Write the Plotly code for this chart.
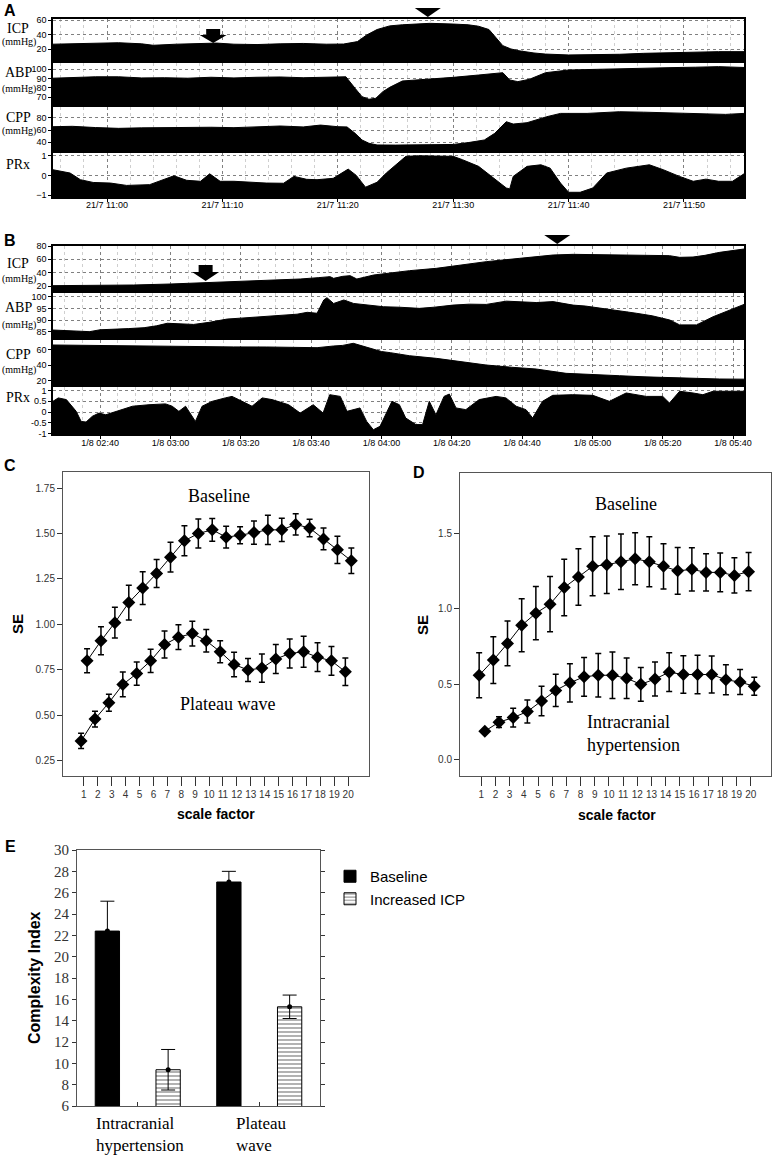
import plotly.graph_objects as go

W, H = 776, 1155
SERIF = "Liberation Serif, Times New Roman, serif"
SANS = "Liberation Sans, Arial, sans-serif"

# ---------------- Panel A : minutes after 21/7 11:00 ----------------
a_tick_min = [0, 10, 20, 30, 40, 50]
a_tick_text = ["21/7 11:00", "21/7 11:10", "21/7 11:20", "21/7 11:30", "21/7 11:40", "21/7 11:50"]

a_icp_t = [-4.7, -3.0, -1.0, 1.0, 3.0, 4.0, 6.0, 8.0, 9.5, 11.0, 13.0, 15.0, 17.0, 19.0, 20.5, 21.7,
           22.5, 23.4, 24.5, 25.6, 27.0, 28.0, 30.0, 31.3, 32.2, 33.1, 33.7, 34.3, 35.0, 35.7, 37.0,
           38.0, 40.0, 42.0, 44.4, 46.5, 48.7, 51.0, 53.0, 55.2]
a_icp = [27.0, 27.8, 28.0, 29.0, 27.5, 25.5, 27.0, 28.0, 28.5, 27.0, 26.5, 27.5, 28.0, 27.0, 27.2, 30.5,
         39.5, 47.0, 52.0, 53.5, 54.5, 55.5, 54.5, 53.5, 51.5, 47.0, 36.0, 25.0, 20.5, 18.0, 15.0,
         13.5, 12.3, 12.5, 13.2, 14.5, 15.5, 16.0, 16.8, 16.8]

a_abp_t = [-4.7, -3.0, -1.0, 1.0, 3.0, 5.0, 7.0, 9.0, 11.0, 13.0, 15.0, 17.0, 19.0, 20.7, 21.5, 22.1,
           22.7, 23.3, 23.9, 24.5, 25.6, 27.9, 30.0, 32.2, 34.3, 34.9, 35.6, 36.6, 38.0, 40.0, 42.0,
           44.4, 46.5, 48.7, 51.0, 53.0, 55.2]
a_abp = [90.5, 91.5, 92.0, 92.0, 90.8, 91.0, 90.5, 91.5, 90.8, 91.5, 91.8, 91.0, 91.5, 92.0, 79.6, 70.7,
         67.9, 69.0, 76.0, 80.7, 87.5, 89.3, 91.4, 93.9, 96.4, 88.6, 86.8, 89.3, 96.4, 99.3, 100.0,
         101.0, 101.5, 101.8, 102.3, 102.9, 102.0]

a_cpp_t = [-4.7, -3.0, -1.0, 1.0, 3.0, 5.0, 7.0, 9.0, 11.0, 13.0, 15.0, 17.0, 18.5, 20.0, 20.8, 21.5,
           22.1, 22.7, 23.4, 25.0, 27.9, 30.0, 31.3, 32.7, 33.6, 34.0, 34.6, 35.2, 36.4, 38.1, 39.3,
           41.6, 44.4, 46.5, 48.7, 51.6, 53.6, 55.2]
a_cpp = [65.4, 66.0, 64.0, 62.7, 63.5, 64.0, 65.0, 64.5, 63.8, 65.5, 66.5, 65.0, 68.0, 65.4, 65.0, 54.6,
         43.8, 38.4, 35.7, 35.5, 35.7, 36.5, 39.5, 43.8, 54.6, 62.7, 73.5, 69.7, 71.9, 81.6, 87.0,
         87.0, 89.7, 89.0, 88.0, 87.0, 85.4, 87.0]

a_prx_t = [-4.7, -3.8, -3.2, -2.3, -1.2, 0.3, 1.7, 3.7, 5.8, 6.9, 8.1, 8.9, 9.8, 11.0, 12.4, 13.8,
           15.3, 16.2, 17.3, 18.2, 19.6, 20.9, 21.6, 22.4, 23.4, 24.2, 25.9, 27.0, 30.0, 30.8, 32.2,
           33.7, 34.6, 34.9, 35.2, 36.4, 37.6, 38.4, 39.3, 40.0, 41.0, 42.1, 43.3, 45.0, 47.0, 48.2,
           49.6, 50.8, 51.9, 53.0, 54.2, 55.2]
a_prx = [0.29, 0.20, 0.12, -0.22, -0.36, -0.39, -0.51, -0.47, -0.02, -0.25, -0.30, 0.08, -0.30, -0.30,
         -0.36, -0.39, -0.40, -0.05, -0.20, -0.22, -0.15, 0.32, 0.00, -0.60, -0.35, 0.12, 0.97, 1.00,
         0.97, 0.80, 0.46, -0.22, -0.64, -0.69, -0.05, 0.46, 0.54, 0.37, -0.39, -0.86, -0.86, -0.64,
         0.12, 0.37, 0.54, 0.29, -0.05, -0.30, -0.19, -0.30, -0.30, 0.08]

# ---------------- Panel B : minutes after 1/8 02:40 ----------------
b_tick_min = [0, 20, 40, 60, 80, 100, 120, 140, 160, 180]
b_tick_text = ["1/8 02:40", "1/8 03:00", "1/8 03:20", "1/8 03:40", "1/8 04:00",
               "1/8 04:20", "1/8 04:40", "1/8 05:00", "1/8 05:20", "1/8 05:40"]

b_icp_t = [-13.4, 0, 9.5, 20, 28.4, 38, 47.4, 56.9, 62, 65.4, 66.4, 69, 71.1, 73, 77.8, 82.5, 88,
           95.6, 102, 109.8, 119.3, 128.8, 134.5, 140, 147.7, 155, 161.9, 164.8, 168.6, 172, 176.2, 183.1]
b_icp = [20.5, 21.0, 21.5, 23.0, 24.5, 26.0, 28.0, 30.5, 32.5, 34.0, 31.5, 34.5, 35.5, 30.5, 36.5, 40.0,
         43.0, 46.5, 51.0, 56.5, 61.5, 66.5, 67.5, 67.0, 66.5, 66.0, 65.5, 63.0, 63.5, 66.0, 70.5, 75.5]

b_abp_t = [-13.4, -9, -5.6, -3, 0, 3, 8, 12.5, 16, 19.1, 22, 26.6, 31, 36.1, 40, 45.6, 50, 53.2, 56,
           58.9, 61.7, 63.6, 64.5, 66.4, 69.3, 72.1, 76, 80.6, 85, 90.8, 95, 100.3, 105, 109.8, 115.5,
           119.3, 124, 128.8, 134.5, 138, 143, 148, 152.5, 157, 162, 164.8, 169.6, 174.3, 178, 183.1]
b_abp = [85.7, 85.5, 85.3, 85.0, 85.8, 86.1, 86.3, 86.7, 87.5, 88.6, 88.5, 88.1, 89.0, 90.4, 90.8, 91.4,
         91.8, 92.1, 92.5, 93.3, 92.9, 98.6, 99.6, 97.1, 98.6, 97.1, 96.5, 95.7, 95.5, 95.0, 95.5, 96.4,
         96.8, 96.7, 98.1, 97.9, 97.5, 97.9, 96.4, 96.0, 95.0, 94.0, 92.9, 91.8, 90.0, 87.9, 87.9, 91.4,
         93.5, 96.7]

b_cpp_t = [-13.4, -5, 0, 9.5, 20, 28.4, 38, 47.4, 55, 61.7, 66.4, 69, 72, 75.9, 80, 82.5, 88, 95.6,
           102, 109.8, 117, 124, 132.5, 140, 147.7, 155, 161.9, 170, 176.2, 183.1]
b_cpp = [66.5, 66.0, 65.8, 65.2, 64.8, 64.3, 64.0, 63.9, 63.5, 63.0, 65.2, 66.0, 68.7, 63.0, 58.0, 56.5,
         52.5, 49.1, 45.0, 40.4, 37.5, 35.2, 29.6, 28.5, 26.5, 25.0, 23.9, 22.8, 22.2, 22.0]

b_prx_t = [-13.4, -11.9, -9.6, -6.8, -5.4, -4.0, -2.2, -0.3, 1.6, 4.4, 9.2, 13.9, 18.6, 20.5, 22.4,
           24.3, 27.1, 29.0, 31.9, 35.6, 37.5, 39.4, 43.2, 46.1, 48.9, 53.6, 56.9, 60.6, 63.4, 65.3,
           68.3, 70.2, 72.0, 73.9, 75.8, 77.7, 79.6, 81.5, 83.0, 85.1, 86.9, 89.8, 91.7, 93.6, 95.5,
           97.8, 99.3, 101.2, 104.0, 107.8, 112.6, 115.4, 118.3, 121.1, 123.0, 125.8, 128.7, 134.4,
           140.1, 144.8, 149.6, 155.3, 160.0, 161.9, 164.8, 168.6, 171.4, 174.3, 183.1]
b_prx = [0.50, 0.66, 0.58, 0.03, -0.44, -0.47, -0.20, -0.05, -0.13, 0.03, 0.27, 0.34, 0.38, 0.27, 0.03,
         0.27, -0.44, 0.27, 0.50, 0.66, 0.73, 0.58, 0.27, 0.66, 0.58, 0.34, -0.05, 0.34, -0.05, 0.81,
         0.73, 0.03, 0.11, 0.19, -0.44, -0.83, -0.67, 0.03, 0.50, 0.34, -0.28, -0.59, -0.59, 0.50, -0.13,
         0.73, 0.84, 0.19, 0.11, 0.58, 0.73, 0.66, 0.27, 0.11, -0.28, 0.50, 0.78, 0.81,
         0.78, 0.50, 0.89, 0.73, 0.73, 0.42, 0.97, 0.89, 0.81, 0.97, 0.97]

# event markers (minutes)
a_arrow_t, a_peak_t = 9.2, 27.8
b_arrow_t, b_peak_t = 30.0, 130.0

# ---------------- Panel C / D ----------------
scale = list(range(1, 21))
c_base = [0.80, 0.91, 1.01, 1.12, 1.20, 1.28, 1.37, 1.46, 1.50, 1.52, 1.48, 1.49, 1.505, 1.52, 1.52,
          1.55, 1.53, 1.47, 1.41, 1.35]
c_base_err = [0.066, 0.077, 0.085, 0.096, 0.09, 0.077, 0.082, 0.082, 0.08, 0.063, 0.06, 0.047, 0.064,
              0.08, 0.064, 0.058, 0.048, 0.06, 0.075, 0.07]
c_plat = [0.36, 0.48, 0.57, 0.67, 0.73, 0.80, 0.89, 0.93, 0.95, 0.91, 0.85, 0.78, 0.75, 0.76, 0.81,
          0.84, 0.85, 0.82, 0.80, 0.74]
c_plat_err = [0.042, 0.043, 0.047, 0.068, 0.064, 0.064, 0.074, 0.068, 0.068, 0.062, 0.061, 0.067,
              0.063, 0.078, 0.08, 0.08, 0.085, 0.079, 0.079, 0.076]

d_base = [0.56, 0.66, 0.77, 0.89, 0.97, 1.03, 1.14, 1.21, 1.28, 1.29, 1.31, 1.33, 1.31, 1.28, 1.25,
          1.26, 1.24, 1.24, 1.22, 1.245]
d_base_err = [0.148, 0.154, 0.148, 0.175, 0.176, 0.183, 0.187, 0.187, 0.195, 0.19, 0.183, 0.172,
              0.165, 0.15, 0.154, 0.143, 0.123, 0.128, 0.116, 0.127]
d_ich = [0.19, 0.25, 0.28, 0.32, 0.39, 0.46, 0.51, 0.55, 0.56, 0.56, 0.54, 0.50, 0.535, 0.58, 0.565,
         0.565, 0.565, 0.53, 0.515, 0.487]
d_ich_err = [0.01, 0.035, 0.062, 0.076, 0.098, 0.106, 0.126, 0.128, 0.143, 0.154, 0.134, 0.112,
             0.112, 0.128, 0.124, 0.128, 0.123, 0.099, 0.083, 0.06]

# ---------------- Panel E ----------------
e_groups = ["Intracranial<br>hypertension", "Plateau<br>wave"]
e_baseline = [22.4, 27.0]
e_baseline_err = [2.8, 1.0]
e_increased = [9.4, 15.3]
e_increased_err = [1.9, 1.1]


def px(x):
    return x / W


def py(y):
    return 1 - y / H


fig = go.Figure()
axes = {}
annotations = []
shapes = []

STRIP_X = (53, 744)


def ax_names(i):
    return ("xaxis" if i == 1 else f"xaxis{i}", "yaxis" if i == 1 else f"yaxis{i}",
            "x" if i == 1 else f"x{i}", "y" if i == 1 else f"y{i}")


def note(text, x, y, size, family=SANS, angle=0, xanchor="center", yanchor="middle", align="center", color="black"):
    annotations.append(dict(x=px(x), y=py(y), xref="paper", yref="paper", text=text, showarrow=False,
                            xanchor=xanchor, yanchor=yanchor, align=align, textangle=angle,
                            font=dict(family=family, size=size, color=color)))


def add_strip(i, t, v, ypx, yrng, ytv, xrng, xtv, xtt, show_xlab, minor_dt, floor=None, lab_shift=0):
    xk, yk, xr, yr = ax_names(i)
    if floor is not None:
        fig.add_trace(go.Scatter(x=[t[0], t[-1]], y=[floor, floor], mode="lines",
                                 line=dict(width=0, color="black"), xaxis=xr, yaxis=yr,
                                 showlegend=False, hoverinfo="skip"))
        fill = "tonexty"
    else:
        fill = "tozeroy"
    fig.add_trace(go.Scatter(x=t, y=v, mode="lines", line=dict(color="black", width=1),
                             fill=fill, fillcolor="black", xaxis=xr, yaxis=yr, showlegend=False))
    axes[xk] = dict(domain=[px(STRIP_X[0]), px(STRIP_X[1])], range=xrng, anchor=yr, automargin=False,
                    tickmode="array", tickvals=xtv, ticktext=xtt, showticklabels=show_xlab,
                    ticks="outside" if show_xlab else "", ticklen=3, tickcolor="black",
                    ticklabelstandoff=lab_shift,
                    tickfont=dict(family=SANS, size=9, color="black"),
                    showgrid=True, gridcolor="#808080", griddash="dot", gridwidth=1,
                    minor=dict(tickmode="linear", tick0=0, dtick=minor_dt, showgrid=True,
                               gridcolor="#cfcfcf", gridwidth=1),
                    showline=True, mirror=True, linecolor="black", linewidth=1.5, zeroline=False)
    axes[yk] = dict(domain=[py(ypx[1]), py(ypx[0])], range=yrng, anchor=xr, automargin=False,
                    tickmode="array", tickvals=ytv, ticks="outside", ticklen=3, tickcolor="black",
                    tickfont=dict(family=SANS, size=9, color="black"),
                    showgrid=True, gridcolor="#808080", griddash="dot", gridwidth=1,
                    showline=True, mirror=True, linecolor="black", linewidth=1.5, zeroline=False)


A_XR = [-4.68, 55.2]
B_XR = [-13.4, 183.1]
add_strip(1, a_icp_t, a_icp, (19, 60), [5.4, 61.4], [20, 40, 60], A_XR, a_tick_min, a_tick_text, False, 2)
add_strip(2, a_abp_t, a_abp, (63, 104), [62.8, 106.8], [70, 80, 90, 100], A_XR, a_tick_min, a_tick_text, False, 2)
add_strip(3, a_cpp_t, a_cpp, (107, 150), [27.5, 97.4], [40, 60, 80], A_XR, a_tick_min, a_tick_text, False, 2)
add_strip(4, a_prx_t, a_prx, (153, 197), [-1.1, 1.14], [-1, 0, 1], A_XR, a_tick_min, a_tick_text, True, 2,
          floor=-1.1, lab_shift=-5)
add_strip(5, b_icp_t, b_icp, (246, 289), [15.5, 80], [20, 40, 60, 80], B_XR, b_tick_min, b_tick_text, False, 5)
add_strip(6, b_abp_t, b_abp, (293, 337), [82.7, 101.6], [85, 90, 95, 100], B_XR, b_tick_min, b_tick_text, False, 5)
add_strip(7, b_cpp_t, b_cpp, (340, 384), [15.7, 73], [20, 40, 60], B_XR, b_tick_min, b_tick_text, False, 5)
add_strip(8, b_prx_t, b_prx, (387, 434), [-1.03, 1.17], [-1, -0.5, 0, 0.5, 1], B_XR, b_tick_min, b_tick_text, True, 5,
          floor=-1.03, lab_shift=-4)
axes["yaxis8"]["ticktext"] = ["-1", "-0.5", "0", "0.5", "1"]

# strip labels
strip_labels = [("ICP", 28, 42), ("ABP", 72, 89), ("CPP", 117, 131), ("PRx", 165, None),
                ("ICP", 264, 279), ("ABP", 308, 325), ("CPP", 355, 370), ("PRx", 398, None)]
for name, yname, yunit in strip_labels:
    note(name, 18, yname, 14, family=SERIF)
    if yunit is not None:
        note("(mmHg)", 19, yunit, 10, family=SERIF)


def t2px(t, rng):
    return STRIP_X[0] + (t - rng[0]) / (rng[1] - rng[0]) * (STRIP_X[1] - STRIP_X[0])


def block_arrow(xc, top, head, tip):
    pts = [(xc - 7, top), (xc + 7, top), (xc + 7, head), (xc + 13.5, head), (xc, tip),
           (xc - 13.5, head), (xc - 7, head)]
    return "M " + " L ".join(f"{px(a):.5f},{py(b):.5f}" for a, b in pts) + " Z"


def tri(xc, top, tip):
    pts = [(xc - 13, top), (xc + 13, top), (xc, tip)]
    return "M " + " L ".join(f"{px(a):.5f},{py(b):.5f}" for a, b in pts) + " Z"


for path in [block_arrow(t2px(a_arrow_t, A_XR), 29, 35, 43), tri(t2px(a_peak_t, A_XR), 8, 17),
             block_arrow(t2px(b_arrow_t, B_XR), 265, 272, 281), tri(t2px(b_peak_t, B_XR), 235, 244)]:
    shapes.append(dict(type="path", path=path, xref="paper", yref="paper",
                       fillcolor="black", line=dict(color="black", width=0)))


# ---------------- C and D ----------------
def se_panel(i, xpx, ypx, xrng, yrng, ytv, ytt, series):
    xk, yk, xr, yr = ax_names(i)
    for vals, errs, off in series:
        fig.add_trace(go.Scatter(x=[s + off for s in scale], y=vals, mode="lines+markers",
                                 line=dict(color="black", width=1),
                                 marker=dict(symbol="diamond", size=10, color="black"),
                                 error_y=dict(type="data", array=errs, color="black", thickness=1.5, width=3),
                                 xaxis=xr, yaxis=yr, showlegend=False))
    axes[xk] = dict(domain=[px(xpx[0]), px(xpx[1])], range=xrng, anchor=yr, automargin=False, tickmode="array",
                    tickvals=scale, ticks="outside", ticklen=9, tickcolor="#333",
                    tickfont=dict(family=SANS, size=10, color="#333"), showgrid=False,
                    showline=True, mirror=True, linecolor="#555", linewidth=1, zeroline=False)
    axes[yk] = dict(domain=[py(ypx[1]), py(ypx[0])], range=yrng, anchor=xr, automargin=False, tickmode="array",
                    tickvals=ytv, ticktext=ytt, ticks="outside", ticklen=5, tickcolor="#333",
                    tickfont=dict(family=SANS, size=10, color="#333"), showgrid=False,
                    showline=True, mirror=True, linecolor="#555", linewidth=1, zeroline=False)


se_panel(9, (63, 369), (472, 776), [-0.5, 21.5], [0.167, 1.838],
         [0.25, 0.5, 0.75, 1.0, 1.25, 1.5, 1.75], ["0.25", "0.50", "0.75", "1.00", "1.25", "1.50", "1.75"],
         [(c_base, c_base_err, 0.23), (c_plat, c_plat_err, -0.2)])
se_panel(10, (460, 771), (473, 776), [-0.5, 21.43], [-0.106, 1.897],
         [0.0, 0.5, 1.0, 1.5], ["0.0", "0.5", "1.0", "1.5"],
         [(d_base, d_base_err, -0.15), (d_ich, d_ich_err, 0.25)])

for txt, x, y in [("Baseline", 219, 496), ("Plateau wave", 227, 704), ("Baseline", 626, 504),
                  ("Intracranial", 628, 722), ("hypertension", 633, 745)]:
    note(txt, x, y, 18, family=SERIF)
for x, y in [(17, 624), (422, 625)]:
    note("<b>SE</b>", x, y, 15, angle=-90)
for x, y in [(216, 814), (617, 815)]:
    note("<b>scale factor</b>", x, y, 14)

# ---------------- E ----------------
gidx = list(range(len(e_groups)))
xb = [g - 0.25 for g in gidx]
xi = [g + 0.25 for g in gidx]
fig.add_trace(go.Bar(x=xb, y=e_baseline, width=0.2, name="Baseline",
                     marker=dict(color="black", line=dict(color="black", width=1)),
                     error_y=dict(type="data", array=e_baseline_err, color="black", thickness=1, width=7),
                     xaxis="x11", yaxis="y11", showlegend=True))
fig.add_trace(go.Bar(x=xi, y=e_increased, width=0.2, name="Increased ICP",
                     marker=dict(color="white", line=dict(color="black", width=1),
                                 pattern=dict(shape="-", fgcolor="black", bgcolor="white", size=4, solidity=0.3)),
                     error_y=dict(type="data", array=e_increased_err, color="black", thickness=1, width=7),
                     xaxis="x11", yaxis="y11", showlegend=True))
fig.add_trace(go.Scatter(x=xb + xi, y=e_baseline + e_increased, mode="markers",
                         marker=dict(color="black", size=5), xaxis="x11", yaxis="y11", showlegend=False))
axes["xaxis11"] = dict(domain=[px(77), px(320)], range=[-0.5, 1.5], anchor="y11", automargin=False,
                       tickmode="array", tickvals=gidx, showticklabels=False, ticks="inside", ticklen=4,
                       tickcolor="#333", showgrid=False, showline=True, mirror=True, linecolor="#555",
                       linewidth=1, zeroline=False)
axes["yaxis11"] = dict(domain=[py(1106), py(850)], range=[6, 30], anchor="x11", automargin=False,
                       tickmode="linear", tick0=6, dtick=2, ticks="outside", ticklen=4, tickcolor="#333",
                       tickfont=dict(family=SERIF, size=15, color="#333"), showgrid=False,
                       showline=True, mirror="allticks", linecolor="#555", linewidth=1, zeroline=False)
for g, x in zip(e_groups, [140, 261]):
    note(g, x, 1112, 17, family=SERIF, yanchor="top", align="left")
note("<b>Complexity Index</b>", 35, 978, 16, angle=-90)

# panel letters
for letter, x, y in [("A", 10, 10), ("B", 10, 240), ("C", 10, 465), ("D", 419, 472), ("E", 10, 846)]:
    note(f"<b>{letter}</b>", x, y, 16)

fig.update_layout(width=W, height=H, margin=dict(l=0, r=0, t=0, b=0, pad=0, autoexpand=False),
                  paper_bgcolor="white", plot_bgcolor="white", annotations=annotations, shapes=shapes,
                  barmode="overlay",
                  legend=dict(x=px(330), y=py(860), xanchor="left", yanchor="top", traceorder="normal",
                              font=dict(family=SANS, size=15, color="black"), bgcolor="rgba(0,0,0,0)",
                              tracegroupgap=4),
                  **axes)
fig.write_html("out.html", config={"displayModeBar": False},
               post_script="document.body.style.margin='0';document.body.style.padding='0';")
